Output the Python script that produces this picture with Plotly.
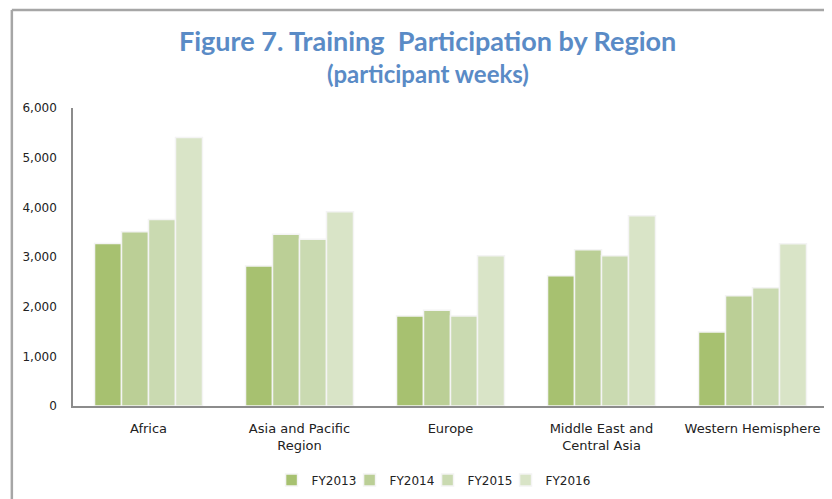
import plotly.graph_objects as go

regions = ["Africa", "Asia and Pacific<br>Region", "Europe", "Middle East and<br>Central Asia", "Western Hemisphere"]
series_names = ["FY2013", "FY2014", "FY2015", "FY2016"]
fy2013 = [3270, 2820, 1810, 2620, 1490]
fy2014 = [3510, 3460, 1930, 3145, 2220]
fy2015 = [3755, 3355, 1810, 3025, 2380]
fy2016 = [5405, 3910, 3025, 3830, 3265]
colors = ["#a7c170", "#bbcf96", "#cadab1", "#d9e4c7"]

fig = go.Figure()
for name, vals, col in zip(series_names, [fy2013, fy2014, fy2015, fy2016], colors):
    fig.add_trace(go.Bar(x=regions, y=vals, name=name, marker=dict(color=col, line=dict(color="#f4f4f4", width=1.5))))

# invisible spacer legend entry so the last legend label is not clipped
fig.add_trace(go.Scatter(x=[None], y=[None], mode="markers", name="",
                         marker=dict(color="rgba(0,0,0,0)", size=1), hoverinfo="skip", showlegend=True))

fig.update_layout(
    width=824, height=491,
    paper_bgcolor="white", plot_bgcolor="white",
    margin=dict(l=65, r=4, t=100, b=93, autoexpand=False),
    barmode="group", bargap=0.285, bargroupgap=0.0,
    font=dict(family="DejaVu Sans, sans-serif", color="#222222"),
    xaxis=dict(showline=True, linecolor="#8c8c8c", linewidth=2, tickfont=dict(size=13, color="#222"), ticks="",
               showgrid=False, automargin=False, ticklabelstandoff=9),
    yaxis=dict(range=[0, 6000], dtick=1000, tickformat=",d", showline=True, linecolor="#8c8c8c", linewidth=1.5,
               showgrid=False, zeroline=False, ticks="", tickfont=dict(size=12, color="#222"),
               ticklabelstandoff=12, automargin=False),
    legend=dict(orientation="h", x=0.263, xanchor="left", y=-0.248, yanchor="middle",
                font=dict(size=12, color="#222"), itemwidth=30, entrywidth=33, entrywidthmode="pixels",
                traceorder="normal", bgcolor="rgba(0,0,0,0)"),
    annotations=[
        dict(text="<b>Figure 7. Training  Participation by Region</b>", xref="paper", yref="paper",
             x=0.47, y=1.228, xanchor="center", yanchor="middle", showarrow=False,
             font=dict(family="Lato, Open Sans, sans-serif", size=27, color="#5a8bc6")),
        dict(text="<b>(participant weeks)</b>", xref="paper", yref="paper",
             x=0.47, y=1.117, xanchor="center", yanchor="middle", showarrow=False,
             font=dict(family="Lato, Open Sans, sans-serif", size=24, color="#5a8bc6")),
    ],
    shapes=[
        dict(type="line", xref="paper", yref="paper", x0=-0.081, x1=1.2, y0=1.329, y1=1.329,
             line=dict(color="#a6a6a6", width=2.5)),
        dict(type="line", xref="paper", yref="paper", x0=-0.081, x1=-0.081, y0=1.329, y1=-0.5,
             line=dict(color="#a6a6a6", width=2.5)),
    ],
)

fig.write_html("out.html")
